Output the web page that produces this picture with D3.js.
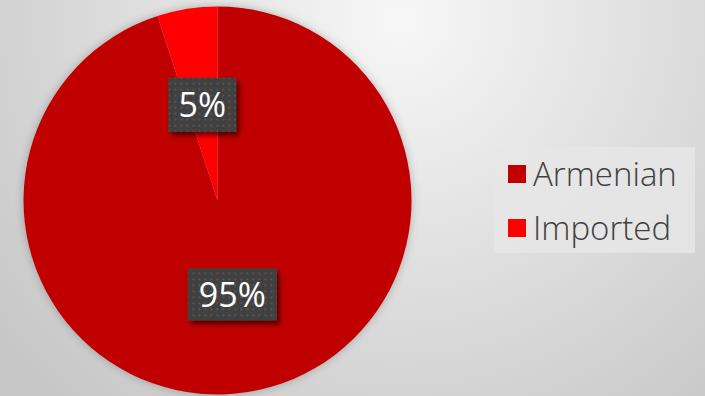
<!DOCTYPE html>
<html>
<head>
<meta charset="utf-8">
<script src="https://cdn.jsdelivr.net/npm/d3@7"></script>
<style>
  html, body { margin: 0; padding: 0; }
  body { width: 705px; height: 396px; overflow: hidden; }
  svg { display: block; }
</style>
</head>
<body>
<svg id="chart" width="705" height="396"></svg>
<script>
// Origin of goods: share of Armenian vs imported
const categories = ["Armenian", "Imported"];
const shares = [95, 5];
const sliceColors = ["#C00000", "#FF0000"];
const labelTexts = ["95%", "5%"];

const W = 705, H = 396;
const cx = 217.5, cy = 200.5, R = 194;
const FONT = "'Open Sans', 'DejaVu Sans', sans-serif";

const svg = d3.select("#chart");
const defs = svg.append("defs");

// Background: soft radial grey gradient
const bg = defs.append("radialGradient")
  .attr("id", "bgGrad")
  .attr("gradientUnits", "userSpaceOnUse")
  .attr("cx", 400).attr("cy", 20).attr("r", 520);
bg.append("stop").attr("offset", "0").attr("stop-color", "#f7f7f7");
bg.append("stop").attr("offset", "0.55").attr("stop-color", "#dcdcdc");
bg.append("stop").attr("offset", "1").attr("stop-color", "#c6c6c6");
svg.append("rect").attr("width", W).attr("height", H).attr("fill", "url(#bgGrad)");

// Soft glow around the pie
const glow = defs.append("filter").attr("id", "pieGlow")
  .attr("x", "-10%").attr("y", "-10%").attr("width", "120%").attr("height", "120%");
glow.append("feDropShadow").attr("dx", 0).attr("dy", 0).attr("stdDeviation", 4)
  .attr("flood-color", "#000").attr("flood-opacity", 0.25);

// Drop shadow for the data labels
const lblShadow = defs.append("filter").attr("id", "lblShadow")
  .attr("x", "-20%").attr("y", "-20%").attr("width", "150%").attr("height", "150%");
lblShadow.append("feDropShadow").attr("dx", 3).attr("dy", 4).attr("stdDeviation", 2.5)
  .attr("flood-color", "#000").attr("flood-opacity", 0.55);

// Dotted texture for the label boxes
const dots = defs.append("pattern").attr("id", "dotFill")
  .attr("patternUnits", "userSpaceOnUse").attr("width", 6).attr("height", 6);
dots.append("rect").attr("width", 6).attr("height", 6).attr("fill", "#404040");
dots.append("rect").attr("x", 2).attr("y", 2).attr("width", 2).attr("height", 2).attr("fill", "#555555");

// Pie, starting at 12 o'clock and running clockwise
const pie = d3.pie().sort(null).value(d => d.v);
const arcs = pie(categories.map((c, i) => ({ c, v: shares[i], color: sliceColors[i], label: labelTexts[i] })));
const arc = d3.arc().innerRadius(0).outerRadius(R);

const g = svg.append("g").attr("transform", `translate(${cx},${cy})`);
g.append("g").attr("filter", "url(#pieGlow)")
  .selectAll("path").data(arcs).join("path")
  .attr("d", arc)
  .attr("fill", d => d.data.color);

// Data labels: dark textured boxes on the slice bisector
const labelPos = (d) => {
  const a = (d.startAngle + d.endAngle) / 2;
  const rr = d.data.v > 50 ? R * 0.49 : R * 0.50;
  return [Math.sin(a) * rr, -Math.cos(a) * rr];
};
const lbl = g.selectAll("g.lbl").data(arcs).join("g")
  .attr("class", "lbl")
  .attr("transform", d => { const p = labelPos(d); return `translate(${p[0]},${p[1]})`; });

lbl.each(function(d) {
  const sel = d3.select(this);
  const w = d.data.label.length === 3 ? 89 : 68;
  const h = d.data.label.length === 3 ? 52 : 54;
  sel.append("rect")
    .attr("x", -w / 2).attr("y", -h / 2).attr("width", w).attr("height", h)
    .attr("fill", "url(#dotFill)")
    .attr("filter", "url(#lblShadow)");
  sel.append("text")
    .attr("text-anchor", "middle")
    .attr("dy", "0.36em")
    .attr("font-family", FONT)
    .attr("font-size", 34)
    .attr("fill", "#ffffff")
    .text(d.data.label);
});

// Legend
const legend = svg.append("g").attr("transform", "translate(494,147)");
legend.append("rect").attr("width", 201).attr("height", 106)
  .attr("fill", "#e6e6e6").attr("opacity", 0.85);
const items = legend.selectAll("g.item").data(categories).join("g")
  .attr("class", "item")
  .attr("transform", (d, i) => `translate(0,${18 + i * 54})`);
items.append("rect").attr("x", 14).attr("y", 0).attr("width", 18).attr("height", 18)
  .attr("fill", (d, i) => sliceColors[i]);
items.append("text")
  .attr("x", 39).attr("y", 21)
  .attr("font-family", FONT)
  .attr("font-weight", 300)
  .attr("font-size", 33)
  .attr("fill", "#404040")
  .text(d => d);
</script>
</body>
</html>
